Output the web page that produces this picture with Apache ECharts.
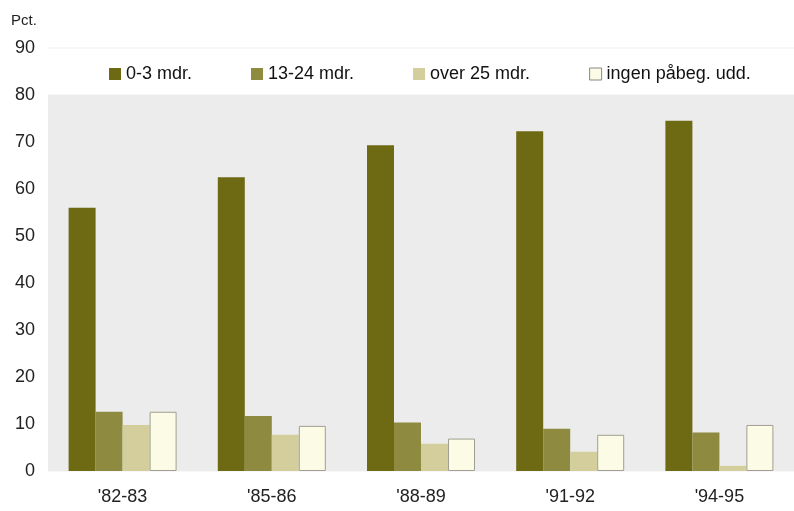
<!DOCTYPE html>
<html>
<head>
<meta charset="utf-8">
<script src="https://cdn.jsdelivr.net/npm/echarts@6/dist/echarts.min.js"></script>
<style>
  html, body { margin: 0; padding: 0; background: #fff; }
  #chart { width: 794px; height: 511px; }
</style>
</head>
<body>
<div id="chart"></div>
<script>
// kategorier (skoleår)
const categories = ["'82-83", "'85-86", "'88-89", "'91-92", "'94-95"]
// serier, pct.
const seriesNames = ['0-3 mdr.', '13-24 mdr.', 'over 25 mdr.', 'ingen påbeg. udd.']
const mdr0to3 = [56, 62.5, 69.3, 72.3, 74.5]
const mdr13to24 = [12.6, 11.7, 10.3, 9, 8.2]
const over25 = [9.8, 7.7, 5.8, 4.1, 1.1]
const ingen = [12.6, 9.6, 6.9, 7.7, 9.8]
const yTicks = [0, 10, 20, 30, 40, 50, 60, 70, 80, 90]

const colors = ['#6e6a14', '#8e8a3f', '#d3ce9c', '#fcfbe6']
const fontFamily = 'Liberation Sans, Arial, sans-serif'

const chart = echarts.init(document.getElementById('chart'))

let values = [mdr0to3, mdr13to24, over25, ingen]
let series = []
// grå bakgrunn 0-80, tegnes under hjelpelinjene
series.push({
  type: 'line',
  name: 'bg',
  data: [],
  z: -1,
  silent: true,
  markArea: {
    silent: true,
    itemStyle: { color: '#ececec' },
    data: [[{ yAxis: 0 }, { yAxis: 80 }]]
  }
})
seriesNames.forEach((name, i) => {
  series.push({
    type: 'bar',
    name: name,
    data: values[i],
    barWidth: 27,
    barGap: '0%',
    itemStyle: {
      color: colors[i],
      borderColor: i === 3 ? '#a09f92' : colors[i],
      borderWidth: i === 3 ? 1 : 0
    }
  })
})

chart.setOption({
  animation: false,
  color: colors,
  textStyle: { fontFamily: fontFamily },
  title: {
    text: 'Pct.',
    left: 6,
    top: 8,
    textStyle: { fontSize: 15, fontWeight: 'normal', color: '#222', fontFamily: fontFamily }
  },
  legend: {
    data: seriesNames.map((n, i) => ({
      name: n,
      itemStyle: i === 3 ? { color: '#fcfbe6', borderColor: '#888', borderWidth: 1 } : { color: colors[i] }
    })),
    left: 104,
    top: 60,
    icon: 'rect',
    itemWidth: 12,
    itemHeight: 12,
    itemGap: 59,
    textStyle: { fontSize: 18, color: '#111', fontFamily: fontFamily }
  },
  grid: {
    left: 48,
    right: 0,
    top: 48,
    bottom: 40
  },
  xAxis: {
    type: 'category',
    data: categories,
    axisLine: { show: false },
    axisTick: { show: false },
    axisLabel: { fontSize: 18, color: '#222', margin: 17 }
  },
  yAxis: {
    type: 'value',
    min: yTicks[0],
    max: yTicks[yTicks.length - 1],
    interval: 10,
    axisLine: { show: false },
    axisTick: { show: false },
    axisLabel: { fontSize: 18, color: '#222', margin: 13 },
    splitLine: { show: true, lineStyle: { color: '#f7f7f7', width: 2 } }
  },
  series: series
})
</script>
</body>
</html>
